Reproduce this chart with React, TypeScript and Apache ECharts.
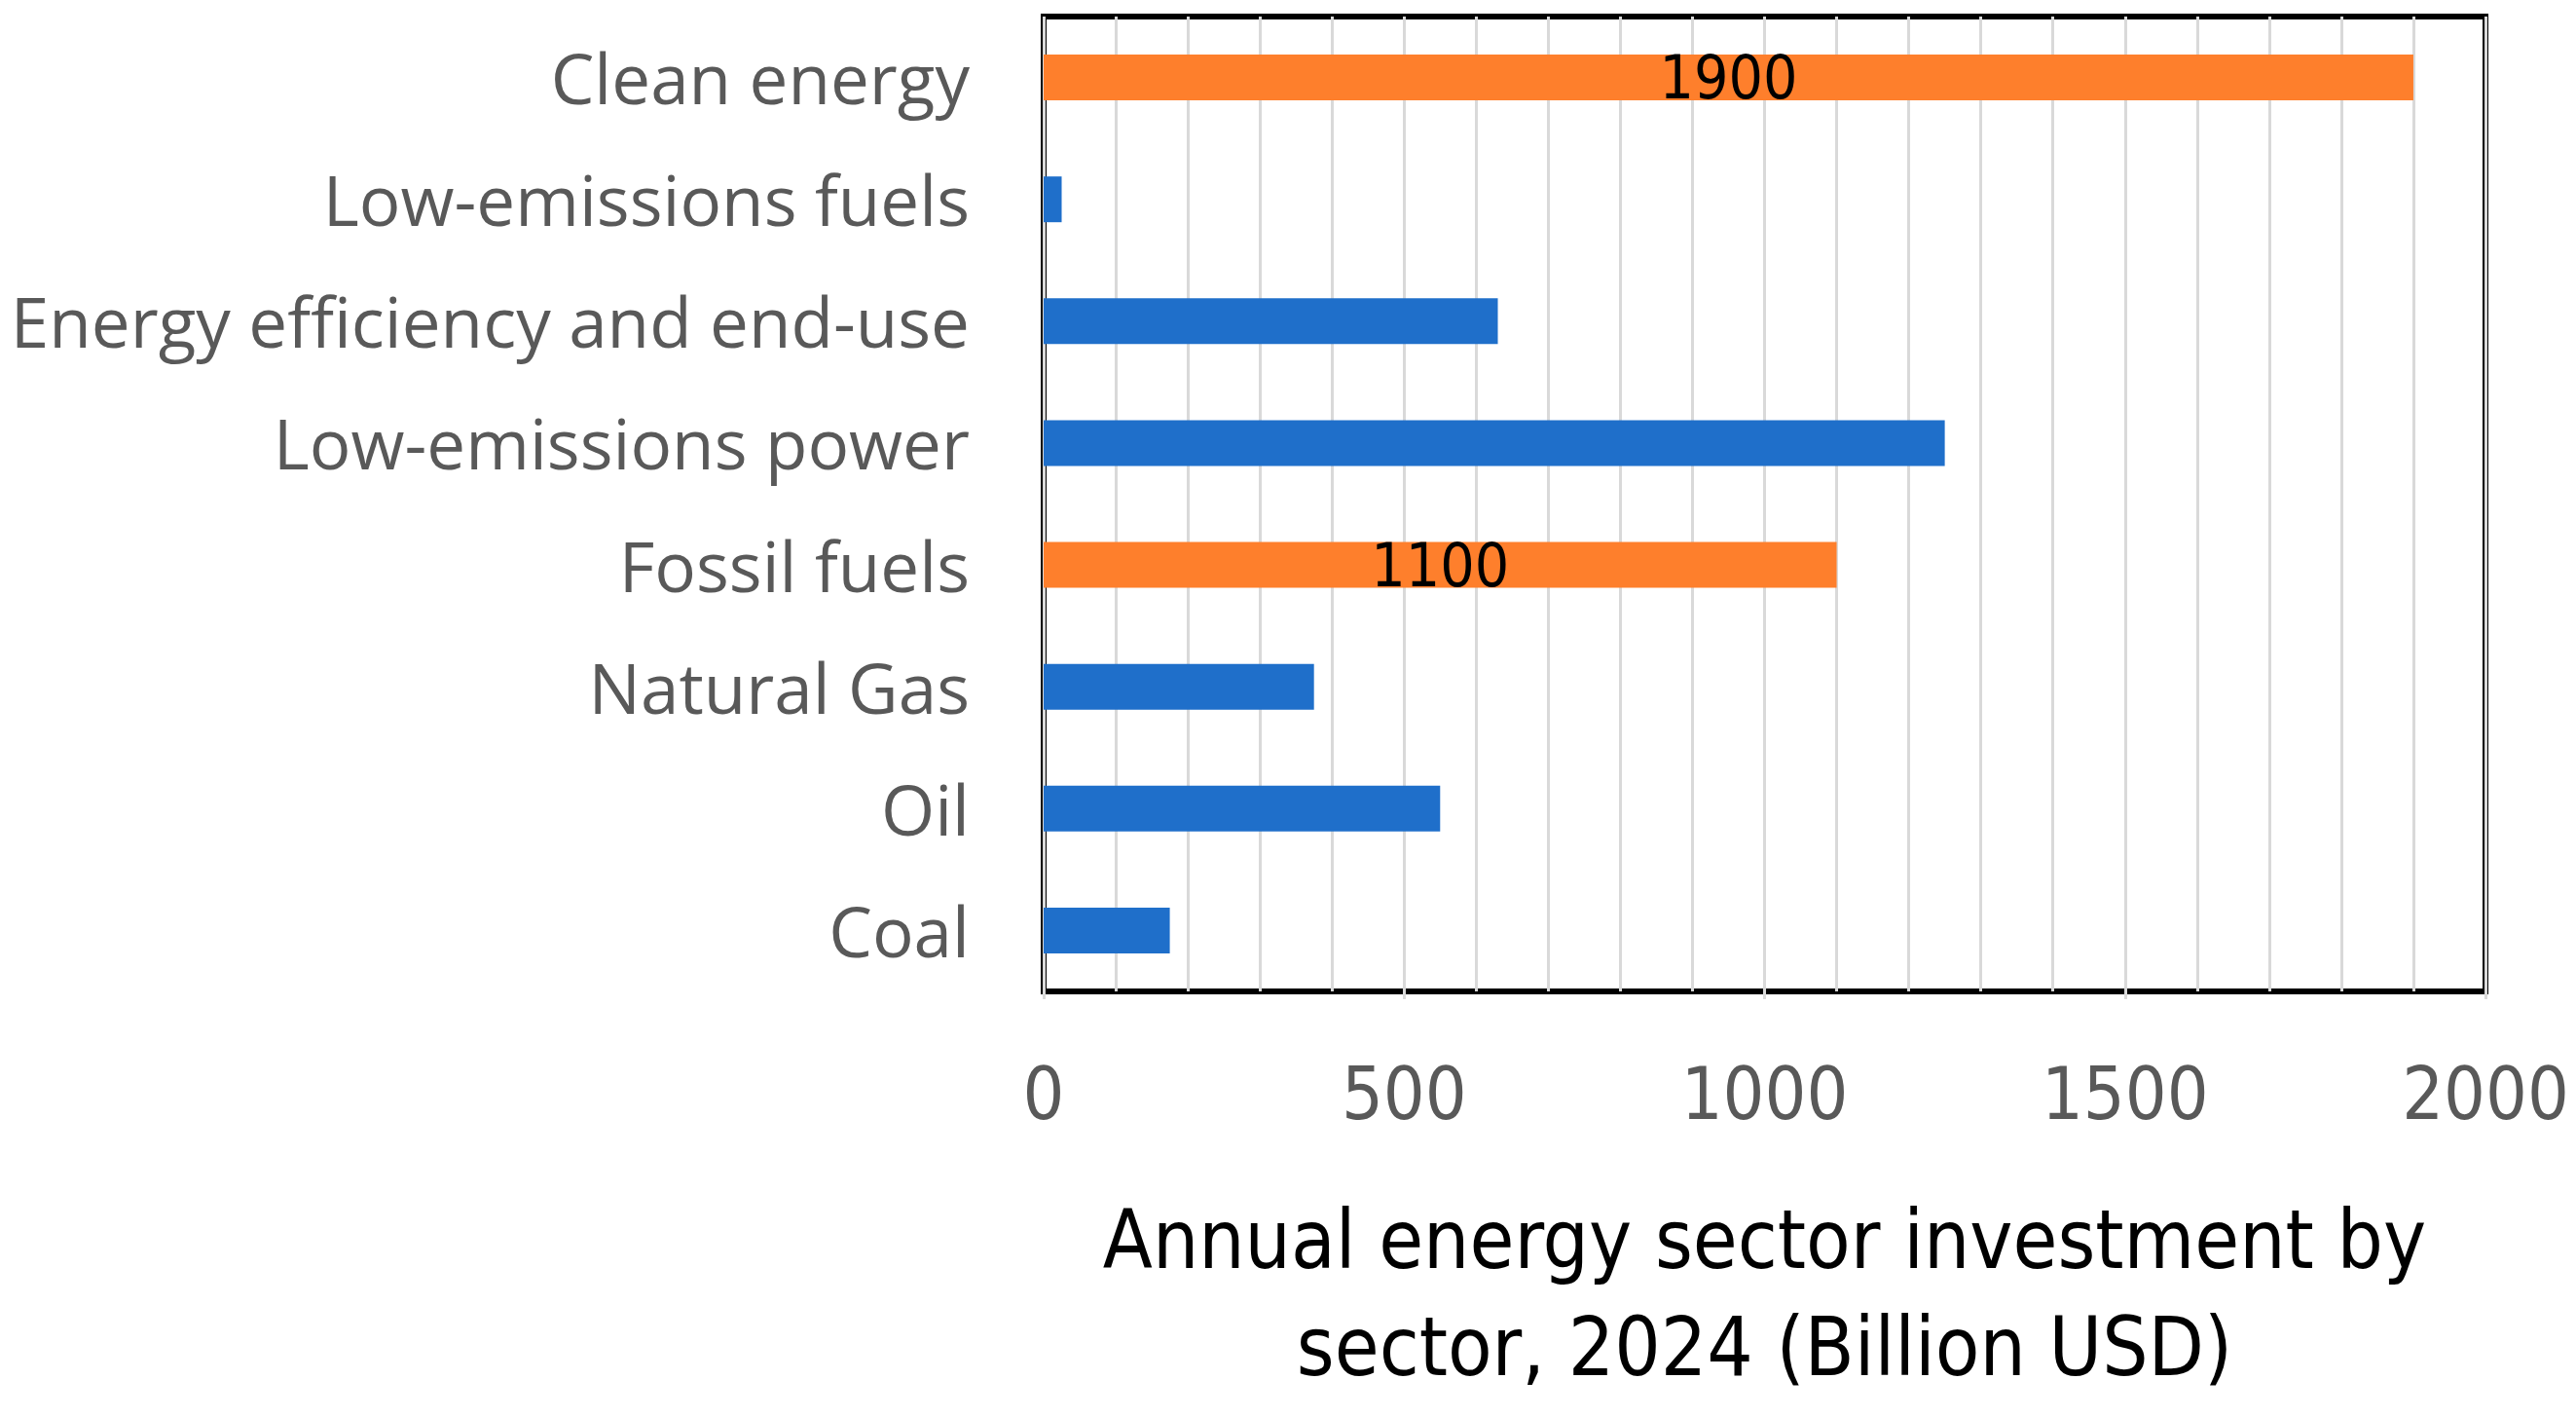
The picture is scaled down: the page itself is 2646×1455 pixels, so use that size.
import React, { useEffect, useRef } from "react";
import * as echarts from "echarts";

const categories = [
  "Clean energy",
  "Low-emissions fuels",
  "Energy efficiency and end-use",
  "Low-emissions power",
  "Fossil fuels",
  "Natural Gas",
  "Oil",
  "Coal",
];
const values = [1900, 25, 630, 1250, 1100, 375, 550, 175];
const totalCategories = ["Clean energy", "Fossil fuels"];
const xMin = 0;
const xMax = 2000;
const xStep = 500;
const axisTitle = "Annual energy sector investment by\nsector, 2024 (Billion USD)";

const NARROW = "'Liberation Sans Narrow', 'DejaVu Sans Condensed', sans-serif";
const HUMAN = "'Open Sans', 'Noto Sans', sans-serif";

export default function App() {
  const ref = useRef<HTMLDivElement>(null);
  useEffect(() => {
    document.body.style.margin = "0";
    const chart = echarts.init(ref.current!, null, { renderer: "svg" });
    const data = values.map((v, i) => {
      const isTotal = totalCategories.includes(categories[i]);
      return {
        value: v,
        itemStyle: { color: isTotal ? "#FE7F2C" : "#1F6FCA" },
        label: {
          show: isTotal,
          position: "inside",
          color: "#000",
          fontFamily: NARROW,
          fontSize: 62,
        },
      };
    });
    chart.setOption({
      animation: false,
      backgroundColor: "#fff",
      grid: {
        left: 1072,
        right: 93,
        top: 17,
        bottom: 437,
        show: true,
        borderColor: "#000",
        borderWidth: 6,
        backgroundColor: "transparent",
        containLabel: false,
      },
      xAxis: {
        type: "value",
        min: xMin,
        max: xMax,
        interval: xStep,
        axisLine: { show: false },
        axisTick: { show: true, length: 8, lineStyle: { color: "#d9d9d9", width: 3 } },
        axisLabel: {
          color: "#595959",
          fontFamily: NARROW,
          fontSize: 75,
          margin: 67,
          formatter: (v: number) => String(v),
        },
        splitLine: { show: true, lineStyle: { color: "#d9d9d9", width: 3 } },
        minorTick: { show: false, splitNumber: 5 },
        minorSplitLine: { show: true, lineStyle: { color: "#d9d9d9", width: 3 } },
        name: axisTitle,
        nameLocation: "middle",
        nameGap: 200,
        nameTextStyle: {
          color: "#000",
          fontFamily: NARROW,
          fontSize: 83,
          lineHeight: 110,
          verticalAlign: "top",
        },
      },
      yAxis: {
        type: "category",
        data: categories,
        inverse: true,
        axisLine: { show: false },
        axisTick: { show: false },
        axisLabel: {
          color: "#595959",
          fontFamily: HUMAN,
          fontSize: 71,
          margin: 76,
        },
        splitLine: { show: false },
      },
      series: [
        {
          type: "bar",
          data,
          barWidth: 47,
        },
      ],
    });
    return () => chart.dispose();
  }, []);
  return <div ref={ref} style={{ width: 2646, height: 1455 }} />;
}
